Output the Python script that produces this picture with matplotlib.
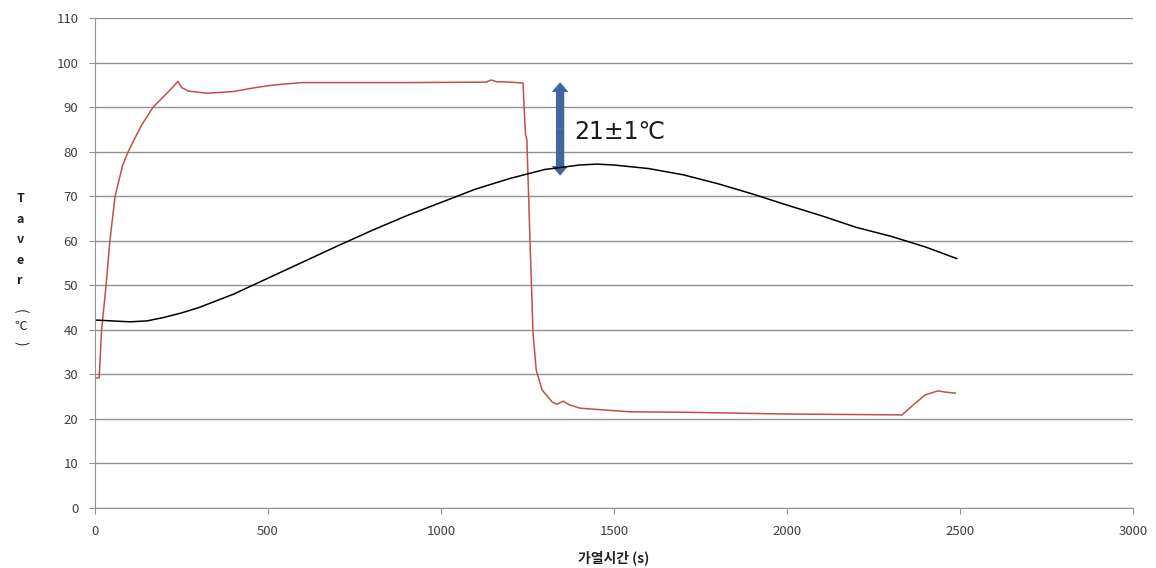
import matplotlib.pyplot as plt
from matplotlib.patches import FancyArrowPatch

plt.rcParams['font.family'] = ['Noto Sans CJK KR', 'DejaVu Sans']

# red curve (heating medium temperature)
red_t = [0, 12, 19, 32, 43, 58, 80, 96, 115, 135, 168, 200, 225, 240, 250, 270, 324, 400,
         450, 500, 550, 600, 900, 1130, 1145, 1160, 1200, 1237, 1240, 1244, 1248,
         1257, 1266, 1275, 1292, 1321, 1335, 1353, 1370, 1402, 1546, 1700, 2000,
         2332, 2370, 2399, 2436, 2460, 2486]
red_v = [29.2, 29.2, 40, 50, 60, 70, 77, 80, 83, 86, 90, 92.5, 94.5, 95.8, 94.4, 93.6, 93.1, 93.5,
         94.2, 94.8, 95.2, 95.5, 95.5, 95.6, 96.1, 95.7, 95.6, 95.4, 90, 84, 82.6,
         60, 39, 31, 26.5, 23.8, 23.3, 24.0, 23.2, 22.4, 21.6, 21.5, 21.1,
         20.9, 23.5, 25.4, 26.3, 26.0, 25.8]

# black curve (average temperature)
blk_t = [0, 50, 100, 150, 200, 250, 300, 400, 500, 600, 700, 800, 900, 1000, 1100,
         1200, 1300, 1400, 1450, 1500, 1600, 1700, 1800, 1900, 2000, 2100, 2200,
         2300, 2400, 2490]
blk_v = [42.2, 42.0, 41.8, 42.0, 42.8, 43.8, 45.0, 48.0, 51.6, 55.2, 58.8, 62.3, 65.6,
         68.6, 71.6, 74.0, 76.0, 77.0, 77.2, 77.0, 76.2, 74.8, 72.8, 70.5, 68.0, 65.6,
         63.0, 61.0, 58.6, 56.0]

x_ticks = [0, 500, 1000, 1500, 2000, 2500, 3000]
y_ticks = list(range(0, 111, 10))

fig = plt.figure(figsize=(11.56, 5.68), dpi=100)
ax = fig.add_axes([0.0822, 0.1056, 0.898, 0.8627])

ax.plot(red_t, red_v, color='#C0504D', lw=1.1)
ax.plot(blk_t, blk_v, color='black', lw=1.1)

ax.set_xlim(0, 3000)
ax.set_ylim(0, 110)
ax.set_xticks(x_ticks)
ax.set_yticks(y_ticks)
ax.yaxis.grid(True, color='#929292', lw=1)
ax.set_axisbelow(True)
for s in ['top', 'right']:
    ax.spines[s].set_visible(False)
for s in ['left', 'bottom']:
    ax.spines[s].set_color('#929292')
ax.tick_params(colors='#929292', labelcolor='#404040', labelsize=9.5, length=4, pad=8)

# double-headed arrow with the temperature difference (two filled arrows from the middle)
mid = 85.1
for end in (95.6, 74.6):
    ax.add_patch(FancyArrowPatch((1344, mid), (1344, end),
                                 arrowstyle='simple,head_length=0.7,head_width=1.2,tail_width=0.6',
                                 mutation_scale=10, color='#3E66A0', lw=0,
                                 shrinkA=0, shrinkB=0))
ax.text(1385, 84.3, '21±1℃', fontsize=17, color='#1a1a1a', va='center', ha='left',
        family=['DejaVu Sans', 'Noto Sans CJK KR'])

# axis titles
ax.set_xlabel('가열시간 (s)', fontsize=10, fontweight='bold', color='#222222', labelpad=9)
fig.text(0.0175, 0.578, 'T\na\nv\ne\nr', fontsize=9, fontweight='bold', color='#222222',
         ha='center', va='center', linespacing=1.75)
fig.text(0.0175, 0.452, '(', fontsize=10, rotation=-90, ha='center', va='center', color='#222222')
fig.text(0.0175, 0.425, '℃', fontsize=9, ha='center', va='center', color='#222222')
fig.text(0.0175, 0.396, ')', fontsize=10, rotation=-90, ha='center', va='center', color='#222222')

fig.savefig('out.png', dpi=100)
